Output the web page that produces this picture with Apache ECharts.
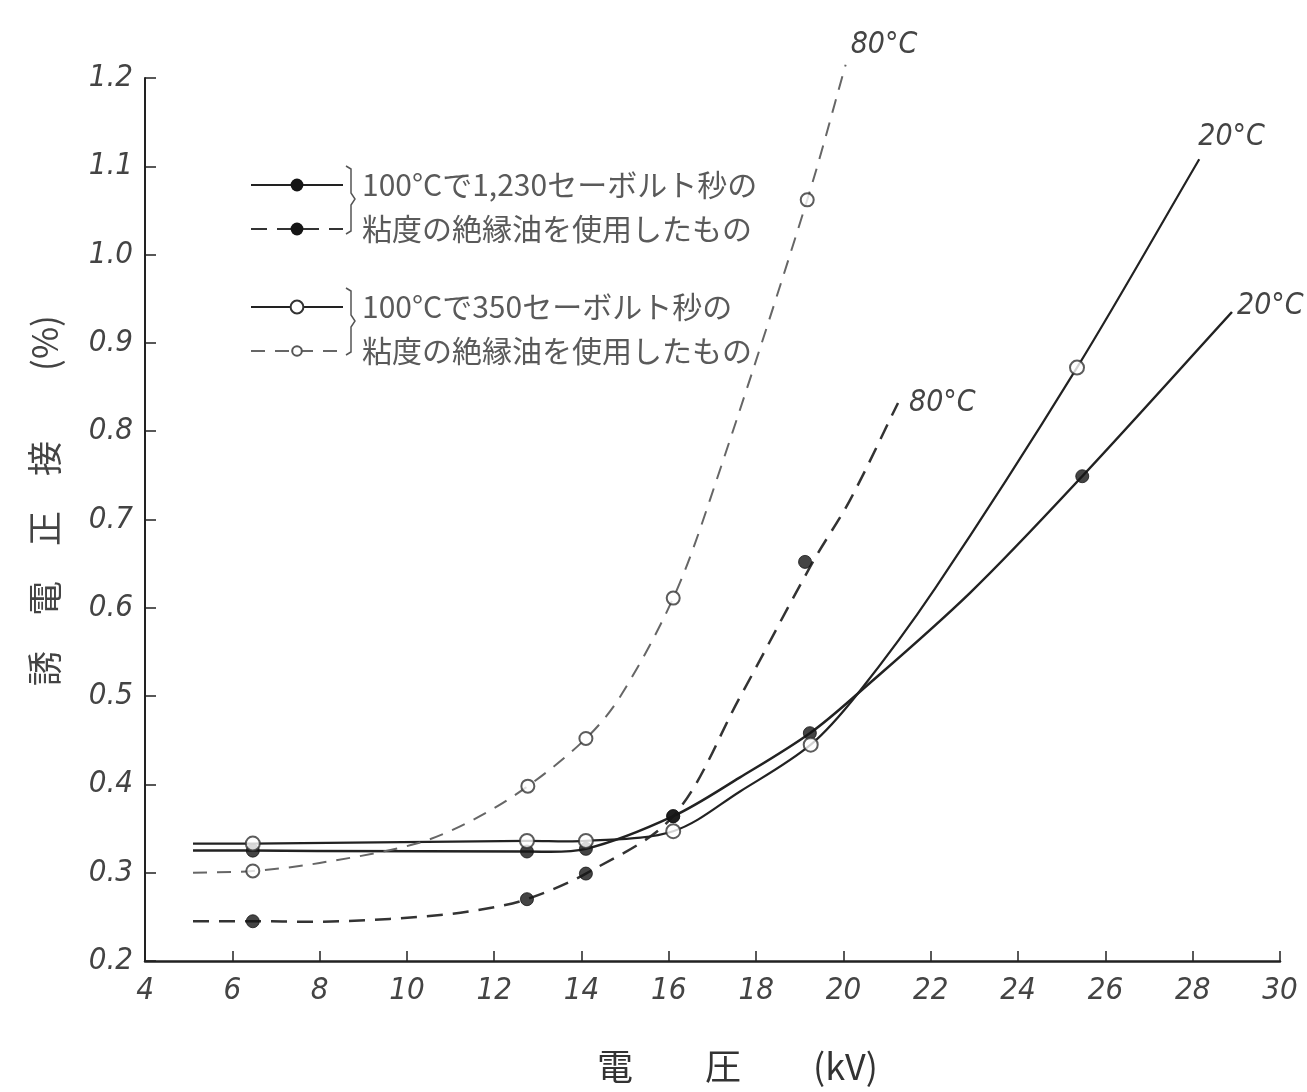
<!DOCTYPE html>
<html>
<head>
<meta charset="utf-8">
<script src="https://cdn.jsdelivr.net/npm/echarts@6/dist/echarts.min.js"></script>
<style>
html,body{margin:0;padding:0;background:#fff;}
#chart{width:1307px;height:1092px;}
</style>
</head>
<body>
<div id="chart"></div>
<script>
// Axis ticks
const xTicks = [4, 6, 8, 10, 12, 14, 16, 18, 20, 22, 24, 26, 28, 30];
const yTicks = [0.2, 0.3, 0.4, 0.5, 0.6, 0.7, 0.8, 0.9, 1.0, 1.1, 1.2];

// Oil A: 1,230 Saybolt s at 100°C — measured points (filled dots)
const oilA20_pts = [[6.47,0.325],[12.75,0.324],[14.1,0.327],[16.1,0.364],[19.23,0.458],[25.47,0.749]];
const oilA80_pts = [[6.47,0.245],[12.75,0.270],[14.1,0.299],[16.1,0.364],[19.12,0.652]];
// Oil A curves as drawn
const oilA20_curve = [[5.1,0.325],[6.47,0.325],[12.75,0.324],[14.1,0.327],[16.1,0.364],[17.63,0.408],[19.23,0.458],[20.33,0.503],[22.9,0.617],[25.47,0.749],[28.9,0.935]];
const oilA80_curve = [[5.1,0.245],[6.47,0.245],[8.5,0.245],[10.76,0.252],[11.9,0.260],[12.75,0.270],[14.1,0.299],[16.1,0.364],[17.63,0.499],[19.3,0.652],[20.15,0.722],[21.25,0.832]];

// Oil B: 350 Saybolt s at 100°C — measured points (open circles)
const oilB20_pts = [[6.47,0.333],[12.75,0.336],[14.1,0.336],[16.1,0.347],[19.25,0.445],[25.35,0.872]];
const oilB80_pts = [[6.47,0.302],[12.77,0.398],[14.1,0.452],[16.1,0.611],[19.17,1.062]];
// Oil B curves as drawn
const oilB20_curve = [[5.1,0.333],[6.47,0.333],[12.75,0.336],[14.1,0.336],[16.1,0.347],[17.63,0.392],[19.25,0.445],[20.33,0.503],[22.1,0.622],[25.35,0.872],[28.15,1.108]];
const oilB80_curve = [[5.1,0.300],[6.47,0.302],[8.0,0.311],[10.22,0.333],[11.52,0.360],[12.77,0.398],[14.1,0.452],[14.88,0.499],[16.1,0.611],[16.94,0.722],[19.17,1.062],[20.05,1.215]];

// Texts
const legendTexts = {
  A20: '100°Cで1,230セーボルト秒の',
  A80: '粘度の絶縁油を使用したもの',
  B20: '100°Cで350セーボルト秒の',
  B80: '粘度の絶縁油を使用したもの'
};
const curveLabels = { A20: '20°C', A80: '80°C', B20: '20°C', B80: '80°C' };
const xName = '電　　圧　　(kV)';
const yName = '誘　電　正　接　　(%)';

const numFont = "'Liberation Sans Narrow','DejaVu Sans Condensed','Liberation Sans',sans-serif";
const cjkFont = "'Noto Sans CJK JP','Noto Sans',sans-serif";
const ink = '#222';

const chart = echarts.init(document.getElementById('chart'), null, {renderer: 'canvas'});

// Smooth path (chord-length Hermite) through pixel points
function smoothPath(pts) {
  const n = pts.length;
  const d = [];
  for (let i = 0; i < n - 1; i++) {
    d.push(Math.hypot(pts[i+1][0] - pts[i][0], pts[i+1][1] - pts[i][1]) || 1e-6);
  }
  const m = [];
  for (let i = 0; i < n; i++) {
    if (i === 0) m.push([(pts[1][0]-pts[0][0])/d[0], (pts[1][1]-pts[0][1])/d[0]]);
    else if (i === n - 1) m.push([(pts[i][0]-pts[i-1][0])/d[i-1], (pts[i][1]-pts[i-1][1])/d[i-1]]);
    else m.push([(pts[i+1][0]-pts[i-1][0])/(d[i-1]+d[i]), (pts[i+1][1]-pts[i-1][1])/(d[i-1]+d[i])]);
  }
  let s = 'M' + pts[0][0].toFixed(2) + ',' + pts[0][1].toFixed(2);
  for (let i = 0; i < n - 1; i++) {
    const k = d[i] / 3;
    const c1 = [pts[i][0] + m[i][0]*k, pts[i][1] + m[i][1]*k];
    const c2 = [pts[i+1][0] - m[i+1][0]*k, pts[i+1][1] - m[i+1][1]*k];
    s += 'C' + c1[0].toFixed(2) + ',' + c1[1].toFixed(2) + ' ' + c2[0].toFixed(2) + ',' + c2[1].toFixed(2) + ' ' + pts[i+1][0].toFixed(2) + ',' + pts[i+1][1].toFixed(2);
  }
  return s;
}

function curveSeries(key, curve, stroke, width, dash, labelOffset) {
  return {
    type: 'custom',
    name: key + '_curve',
    coordinateSystem: 'cartesian2d',
    data: curve,
    silent: true,
    clip: false,
    z: 2,
    renderItem: (params, api) => {
      if (params.dataIndex !== 0) return null;
      const pts = curve.map(p => api.coord(p));
      const end = pts[pts.length - 1];
      return {
        type: 'group',
        children: [
          {type: 'path', shape: {pathData: smoothPath(pts)},
           style: {stroke: stroke, lineWidth: width, lineDash: dash, fill: null}},
          {type: 'text', x: end[0] + labelOffset[0], y: end[1] + labelOffset[1],
           style: {text: curveLabels[key], fontFamily: numFont, fontStyle: 'italic', fontSize: 30,
                   fill: '#444', align: 'left', verticalAlign: 'middle'}}
        ]
      };
    }
  };
}
// Legend-only line series (they carry the legend icon style)
function legendSeries(key, lineStyle, itemStyle) {
  return {name: key, type: 'line', data: [], symbol: 'circle', showSymbol: false, silent: true,
          lineStyle: lineStyle, itemStyle: itemStyle};
}
function markSeries(data, filled, size) {
  return {
    type: 'scatter',
    data: data,
    symbol: 'circle',
    symbolSize: size,
    silent: true,
    z: 5,
    itemStyle: filled ? {color: '#151515', borderColor: '#151515', borderWidth: 1}
                      : {color: '#fff', borderColor: '#333', borderWidth: 2}
  };
}

const legendBase = {
  orient: 'vertical',
  left: 250,
  itemWidth: 92,
  padding: 0,
  selectedMode: false,
  formatter: n => legendTexts[n],
  textStyle: {fontFamily: cjkFont, fontSize: 30, color: '#5a5a5a', padding: [0, 0, 0, 14]}
};

const option = {
  backgroundColor: '#fff',
  animation: false,
  grid: {left: 145, right: 27, top: 78, bottom: 131, containLabel: false},
  xAxis: {
    type: 'value', min: 4, max: 30, interval: 2,
    name: xName, nameLocation: 'middle', nameGap: 87,
    nameTextStyle: {fontFamily: cjkFont, fontSize: 36, color: '#333', padding: [0, 0, 0, 50]},
    axisLine: {show: true, lineStyle: {color: ink, width: 2.5}},
    axisTick: {show: true, inside: true, length: 10, lineStyle: {color: ink, width: 1.5}},
    axisLabel: {
      margin: 14, fontFamily: numFont, fontStyle: 'italic', fontSize: 31, color: '#444',
      formatter: v => xTicks.includes(v) ? String(v) : ''
    },
    splitLine: {show: false}
  },
  yAxis: {
    type: 'value', min: 0.2, max: 1.2, interval: 0.1,
    name: yName, nameLocation: 'middle', nameGap: 83, nameRotate: 90,
    nameTextStyle: {fontFamily: cjkFont, fontSize: 35, color: '#444', padding: [0, 0, 0, 38]},
    axisLine: {show: true, lineStyle: {color: ink, width: 2}},
    axisTick: {show: true, inside: true, length: 11, lineStyle: {color: ink, width: 1.5}},
    axisLabel: {
      margin: 12, fontFamily: numFont, fontStyle: 'italic', fontSize: 31, color: '#444',
      formatter: v => {
        const r = Math.round(v * 10) / 10;
        return yTicks.some(t => Math.abs(t - r) < 1e-9) ? r.toFixed(1) : '';
      }
    },
    splitLine: {show: false}
  },
  legend: [
    Object.assign({}, legendBase, {top: 170, itemHeight: 16, data: ['A20']}),
    Object.assign({}, legendBase, {top: 214, itemHeight: 16, data: ['A80']}),
    Object.assign({}, legendBase, {top: 292, itemHeight: 16, data: ['B20']}),
    Object.assign({}, legendBase, {top: 336, itemHeight: 12, data: ['B80']})
  ],
  graphic: [
    {type: 'polyline', shape: {points: [[346,166],[351,169],[351,193],[355,199],[351,205],[351,231],[346,234]]},
     style: {stroke: '#555', lineWidth: 1.5, fill: null}, silent: true},
    {type: 'polyline', shape: {points: [[346,288],[351,291],[351,315],[355,321],[351,327],[351,352],[346,355]]},
     style: {stroke: '#555', lineWidth: 1.5, fill: null}, silent: true}
  ],
  series: [
    legendSeries('A20', {color: ink, width: 2.5, type: 'solid'}, {color: '#151515', borderColor: '#151515'}),
    legendSeries('A80', {color: '#333', width: 2.5, type: [16, 10]}, {color: '#151515', borderColor: '#151515'}),
    legendSeries('B20', {color: ink, width: 2.2, type: 'solid'}, {color: '#fff', borderColor: '#333', borderWidth: 2}),
    legendSeries('B80', {color: '#666', width: 2, type: [14, 10]}, {color: '#fff', borderColor: '#555', borderWidth: 1.5}),
    curveSeries('A20', oilA20_curve, ink, 2.5, null, [5, -6]),
    curveSeries('A80', oilA80_curve, '#333', 2.5, [16, 10], [11, 0]),
    curveSeries('B20', oilB20_curve, ink, 2.2, null, [-1, -22]),
    curveSeries('B80', oilB80_curve, '#666', 2, [14, 10], [5, -20]),
    markSeries(oilA20_pts, true, 13),
    markSeries(oilA80_pts, true, 13),
    markSeries(oilB20_pts, false, 14),
    markSeries(oilB80_pts, false, 13)
  ]
};
chart.setOption(option);
</script>
</body>
</html>
